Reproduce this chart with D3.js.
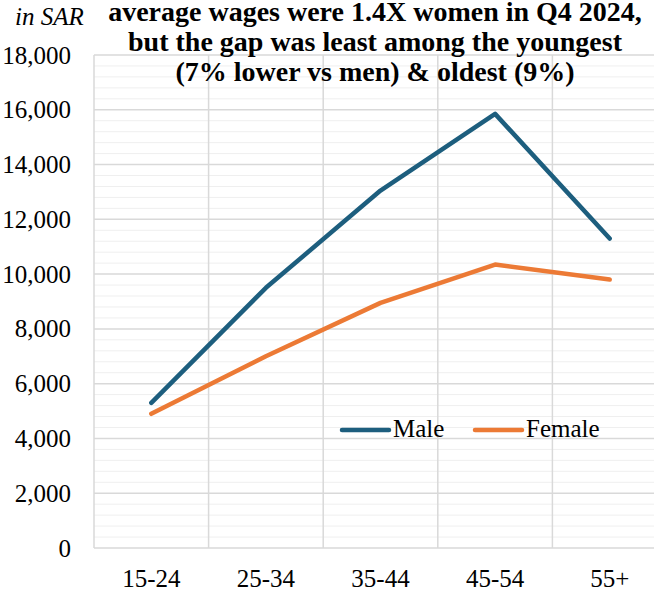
<!DOCTYPE html>
<html>
<head>
<meta charset="utf-8">
<script src="https://cdn.jsdelivr.net/npm/d3@7"></script>
<style>
body { margin: 0; background: #fff; }
svg { display: block; }
</style>
</head>
<body>
<svg id="chart" width="654" height="591"></svg>
<script>
var ageGroups = ["15-24", "25-34", "35-44", "45-54", "55+"];
var maleWages = [5300, 9500, 13050, 15850, 11300];
var femaleWages = [4900, 7000, 8950, 10350, 9800];
var yTicks = [0, 2000, 4000, 6000, 8000, 10000, 12000, 14000, 16000, 18000];
var titleLines = [
    "average wages were 1.4X women in Q4 2024,",
    "but the gap was least among the youngest",
    "(7% lower vs men) & oldest (9%)"
];
var seriesNames = ["Male", "Female"];
var colors = ["#1d5e7e", "#ec7a35"];

var serif = "'Times New Roman', Times, 'Liberation Serif', 'DejaVu Serif', serif";
var svg = d3.select("#chart");
var plotLeft = 94, plotRight = 667, plotTop = 55, plotBottom = 548;

var x = d3.scaleBand().domain(ageGroups).range([plotLeft, plotRight]);
var y = d3.scaleLinear().domain([0, 18000]).range([plotBottom, plotTop]);

// minor grid every 400
var minor = d3.range(0, 18001, 400).filter(function(v) { return v % 2000 != 0; });
svg.append("g").selectAll("line").data(minor).enter().append("line")
    .attr("x1", plotLeft).attr("x2", plotRight)
    .attr("y1", function(d) { return y(d); })
    .attr("y2", function(d) { return y(d); })
    .attr("stroke", "#efefef")
    .attr("stroke-width", 1);

// major grid
svg.append("g").selectAll("line").data(yTicks).enter().append("line")
    .attr("x1", plotLeft).attr("x2", plotRight)
    .attr("y1", function(d) { return y(d); })
    .attr("y2", function(d) { return y(d); })
    .attr("stroke", "#d9d9d9")
    .attr("stroke-width", 1.5);

// vertical grid at category boundaries
var bounds = ageGroups.map(function(d) { return x(d); }).concat([plotRight]);
svg.append("g").selectAll("line").data(bounds).enter().append("line")
    .attr("x1", function(d) { return d; })
    .attr("x2", function(d) { return d; })
    .attr("y1", plotTop).attr("y2", plotBottom)
    .attr("stroke", "#d9d9d9")
    .attr("stroke-width", 1.5);

// y axis labels
var yAxis = svg.append("g")
    .attr("transform", "translate(71,0)")
    .call(d3.axisLeft(y).tickValues(yTicks).tickSize(0).tickPadding(0)
        .tickFormat(d3.format(",")));
yAxis.attr("font-family", serif).attr("font-size", 25);
yAxis.select(".domain").remove();
yAxis.selectAll("text")
    .attr("fill", "#000")
    .attr("dy", "0.32em");

// x axis labels
var xAxis = svg.append("g")
    .attr("transform", "translate(0," + plotBottom + ")")
    .call(d3.axisBottom(x).tickSize(0).tickPadding(0));
xAxis.attr("font-family", serif).attr("font-size", 25);
xAxis.select(".domain").remove();
xAxis.selectAll("text")
    .attr("fill", "#000")
    .attr("dy", "0")
    .attr("y", 39);

var line = d3.line()
    .x(function(d, i) { return x(ageGroups[i]) + x.bandwidth() / 2; })
    .y(function(d) { return y(d); });

[maleWages, femaleWages].forEach(function(vals, i) {
    svg.append("path")
        .datum(vals)
        .attr("d", line)
        .attr("fill", "none")
        .attr("stroke", colors[i])
        .attr("stroke-width", 4.5)
        .attr("stroke-linecap", "round")
        .attr("stroke-linejoin", "round");
});

// legend
var legendX = [342, 475];
seriesNames.forEach(function(name, i) {
    svg.append("line")
        .attr("x1", legendX[i]).attr("x2", legendX[i] + 47)
        .attr("y1", 430).attr("y2", 430)
        .attr("stroke", colors[i])
        .attr("stroke-width", 4.5)
        .attr("stroke-linecap", "round");
    svg.append("text")
        .attr("x", legendX[i] + 51)
        .attr("y", 437)
        .attr("font-family", serif)
        .attr("font-size", 25)
        .text(name);
});

// unit label
svg.append("text")
    .attr("x", 15).attr("y", 25)
    .attr("font-family", serif)
    .attr("font-size", 25)
    .attr("font-style", "italic")
    .text("in SAR");

// title
svg.append("g").selectAll("text").data(titleLines).enter().append("text")
    .attr("x", 375)
    .attr("y", function(d, i) { return 21 + i * 30; })
    .attr("text-anchor", "middle")
    .attr("font-family", serif)
    .attr("font-weight", "bold")
    .attr("font-size", 28)
    .text(function(d) { return d; });
</script>
</body>
</html>
